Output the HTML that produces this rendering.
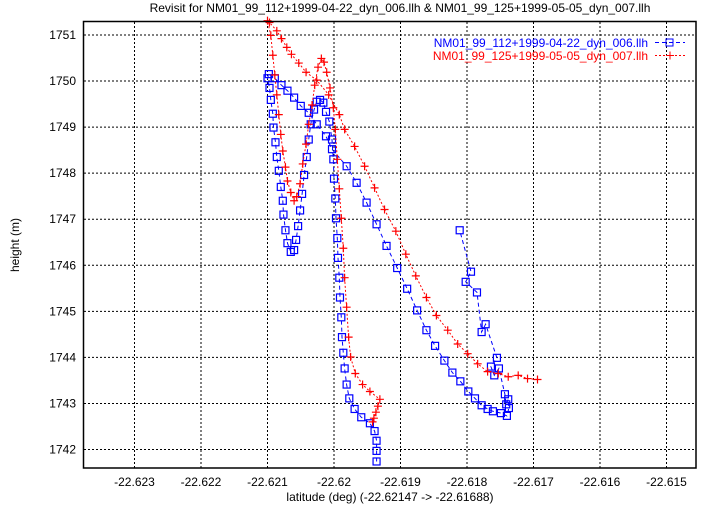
<!DOCTYPE html>
<html><head><meta charset="utf-8"><style>
body{margin:0;background:#fff;}
svg{display:block;font-family:"Liberation Sans",sans-serif;font-size:12px;}
</style></head><body>
<svg id="chart" width="721" height="505" xmlns="http://www.w3.org/2000/svg">
<rect width="721" height="505" fill="#fff"/>
<text x="400" y="12" text-anchor="middle">Revisit for NM01_99_112+1999-04-22_dyn_006.llh &amp; NM01_99_125+1999-05-05_dyn_007.llh</text>
<text x="390" y="501" text-anchor="middle">latitude (deg) (-22.62147 -&gt; -22.61688)</text>
<text transform="translate(19,245) rotate(-90)" text-anchor="middle">height (m)</text>
<g id="grid"></g>
<g id="ticks"></g>
<g id="series"></g>
<rect x="83.5" y="21.5" width="612.5" height="446.5" fill="none" stroke="#000" stroke-width="1.5"/>
<g>
<text x="648" y="47" text-anchor="end" fill="#0000ff">NM01_99_112+1999-04-22_dyn_006.llh</text>
<line x1="655" y1="42.5" x2="685" y2="42.5" stroke="#0000ff" stroke-dasharray="4,3"/>
<rect x="666" y="39" width="7" height="7" fill="none" stroke="#0000ff"/>
<text x="648" y="60" text-anchor="end" fill="#ff0000">NM01_99_125+1999-05-05_dyn_007.llh</text>
<line x1="655" y1="55.5" x2="685" y2="55.5" stroke="#ff0000" stroke-dasharray="2,2"/>
<path d="M666,55.5h8M670,51.5v8" stroke="#ff0000"/>
</g>
</svg>
<script>
const xTicks=[-22.623,-22.622,-22.621,-22.62,-22.619,-22.618,-22.617,-22.616,-22.615];
const xTickLabels=["-22.623","-22.622","-22.621","-22.62","-22.619","-22.618","-22.617","-22.616","-22.615"];
const yTicks=[1742,1743,1744,1745,1746,1747,1748,1749,1750,1751];
const latA=[-22.61936,-22.61936,-22.61936,-22.61939,-22.61946,-22.61959,-22.61969,-22.61977,-22.61981,-22.61984,-22.61986,-22.61988,-22.61989,-22.61991,-22.61992,-22.61994,-22.61995,-22.61997,-22.61998,-22.62000,-22.62001,-22.62003,-22.62007,-22.62012,-22.62016,-22.62021,-22.62026,-22.62030,-22.62035,-22.62038,-22.62041,-22.62045,-22.62048,-22.62051,-22.62054,-22.62057,-22.62060,-22.62065,-22.62070,-22.62073,-22.62076,-22.62077,-22.62080,-22.62083,-22.62086,-22.62088,-22.62091,-22.62092,-22.62095,-22.62097,-22.62100,-22.62098,-22.62089,-22.62079,-22.62070,-22.62060,-22.62050,-22.62038,-22.62026,-22.62012,-22.62003,-22.61981,-22.61966,-22.61951,-22.61936,-22.61921,-22.61905,-22.61890,-22.61875,-22.61861,-22.61848,-22.61834,-22.61822,-22.61810,-22.61798,-22.61788,-22.61778,-22.61769,-22.61761,-22.61749,-22.61740,-22.61737,-22.61738,-22.61741,-22.61743,-22.61752,-22.61759,-22.61764,-22.61755,-22.61772,-22.61778,-22.61785,-22.61802,-22.61794,-22.61811];
const hA=[1741.74,1741.97,1742.19,1742.40,1742.57,1742.70,1742.88,1743.11,1743.41,1743.76,1744.10,1744.44,1744.87,1745.30,1745.73,1746.16,1746.59,1747.02,1747.45,1747.88,1748.30,1748.73,1749.12,1749.33,1749.53,1749.59,1749.55,1749.38,1749.06,1748.73,1748.35,1747.96,1747.55,1747.19,1746.85,1746.55,1746.33,1746.29,1746.48,1746.76,1747.10,1747.40,1747.70,1748.05,1748.35,1748.67,1748.99,1749.29,1749.59,1749.85,1750.06,1750.15,1750.06,1749.91,1749.79,1749.64,1749.46,1749.31,1749.06,1748.80,1748.52,1748.15,1747.79,1747.36,1746.89,1746.42,1745.94,1745.49,1745.02,1744.59,1744.25,1743.93,1743.67,1743.48,1743.26,1743.11,1742.96,1742.88,1742.83,1742.79,1742.73,1742.90,1743.09,1742.98,1743.20,1743.76,1743.61,1743.80,1743.99,1744.72,1744.55,1745.41,1745.64,1745.86,1746.76];
const latB=[-22.61694,-22.61709,-22.61723,-22.61738,-22.61753,-22.61769,-22.61784,-22.61799,-22.61814,-22.61829,-22.61846,-22.61861,-22.61877,-22.61892,-22.61907,-22.61924,-22.61939,-22.61954,-22.61969,-22.61984,-22.61992,-22.62008,-22.62026,-22.62042,-22.62053,-22.62064,-22.62071,-22.62079,-22.62086,-22.62097,-22.62100,-22.62095,-22.62092,-22.62089,-22.62086,-22.62083,-22.62080,-22.62077,-22.62073,-22.62070,-22.62065,-22.62060,-22.62056,-22.62051,-22.62047,-22.62042,-22.62038,-22.62033,-22.62029,-22.62024,-22.62019,-22.62015,-22.62011,-22.62006,-22.62001,-22.61998,-22.61995,-22.61992,-22.61989,-22.61986,-22.61984,-22.61981,-22.61978,-22.61975,-22.61968,-22.61957,-22.61946,-22.61931,-22.61934,-22.61937,-22.61940,-22.61942];
const hB=[1743.52,1743.54,1743.61,1743.58,1743.65,1743.69,1743.86,1744.08,1744.29,1744.59,1744.91,1745.30,1745.77,1746.24,1746.74,1747.21,1747.68,1748.15,1748.58,1748.95,1749.27,1749.70,1750.02,1750.19,1750.39,1750.58,1750.73,1750.92,1751.09,1751.27,1751.31,1750.99,1750.56,1750.13,1749.70,1749.27,1748.84,1748.48,1748.13,1747.83,1747.58,1747.40,1747.49,1747.77,1748.20,1748.63,1749.06,1749.48,1749.91,1750.30,1750.49,1750.41,1750.19,1749.85,1749.42,1748.95,1748.30,1747.66,1747.02,1746.37,1745.73,1745.09,1744.44,1744.01,1743.65,1743.41,1743.26,1743.09,1742.94,1742.81,1742.68,1742.60];
const NS="http://www.w3.org/2000/svg";
function X(v){return 134.5+(v+22.623)*66500;}
function Y(v){return 449.5-(v-1742)*46.06;}
function mk(tag,attrs,parent){const e=document.createElementNS(NS,tag);for(const k in attrs)e.setAttribute(k,attrs[k]);parent.appendChild(e);return e;}
const grid=document.getElementById('grid'),ticks=document.getElementById('ticks'),series=document.getElementById('series');
xTicks.forEach((t,i)=>{const x=X(t);
 const g=mk('line',{x1:x,y1:22,x2:x,y2:468,stroke:'#000','stroke-dasharray':'2,2','stroke-width':1},grid);
 
 
 const l=mk('text',{x:x,y:486,'text-anchor':'middle'},ticks);l.textContent=xTickLabels[i];
 
 
});
yTicks.forEach(t=>{const y=Y(t);
 const g=mk('line',{x1:84,y1:y,x2:696,y2:y,stroke:'#000','stroke-dasharray':'2,2','stroke-width':1},grid);
 
 
 const l=mk('text',{x:76,y:y+4,'text-anchor':'end'},ticks);l.textContent=String(t);
 
 
});
function draw(lat,h,color,dash,marker,name){
 const pts=lat.map((v,i)=>X(v).toFixed(1)+','+Y(h[i]).toFixed(1)).join(' ');
 const pl=mk('polyline',{points:pts,fill:'none',stroke:color,'stroke-dasharray':dash,'stroke-width':1},series);
 
 
 lat.forEach((v,i)=>{const x=X(v),y=Y(h[i]);let m;
  if(marker==='sq'){m=mk('rect',{x:x-3.5,y:y-3.5,width:7,height:7,fill:'none',stroke:color,'stroke-width':1.2},series);}
  else{m=mk('path',{d:`M${x-4},${y}h8M${x},${y-4}v8`,stroke:color,'stroke-width':1.2},series);}
  
  
 });
}
draw(latA,hA,'#0000ff','4,3','sq','series-006');
draw(latB,hB,'#ff0000','2,2','cross','series-007');
</script>
</body></html>
